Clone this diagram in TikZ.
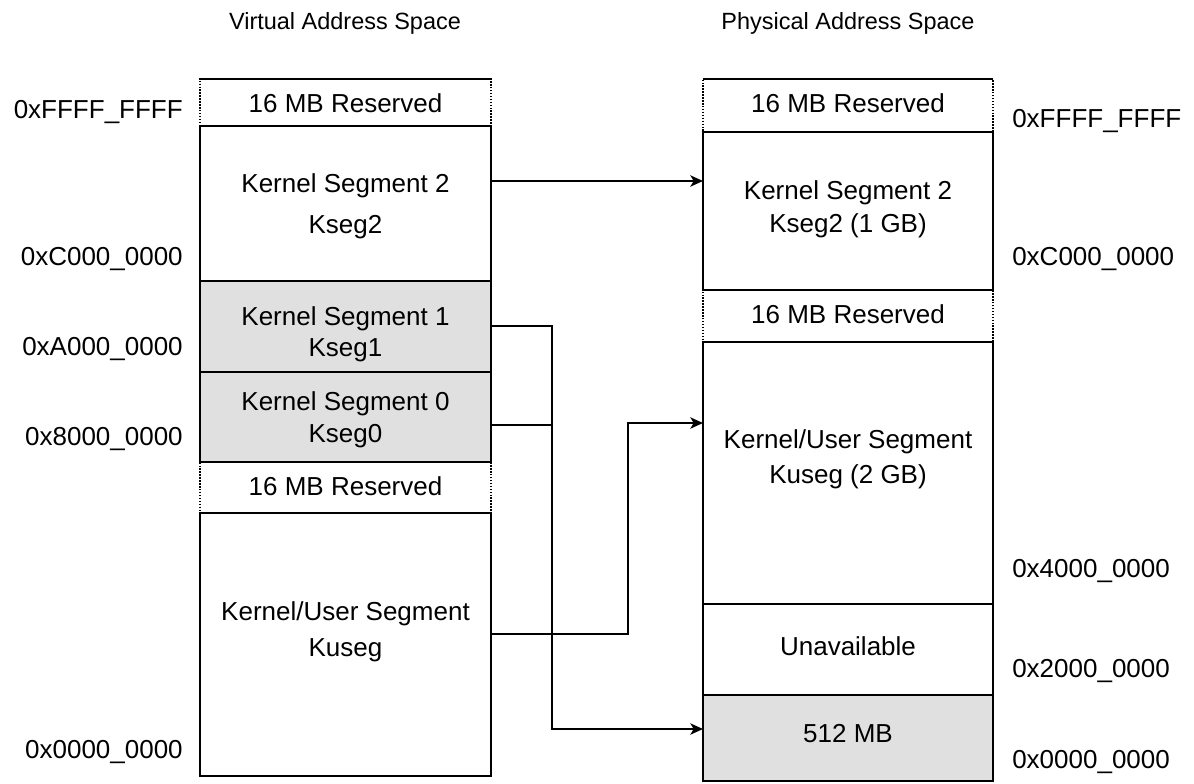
\documentclass[tikz,border=0pt]{standalone}
\usepackage{fontspec}
\setmainfont{Liberation Sans}
\usetikzlibrary{fit,arrows.meta}
\definecolor{segfill}{RGB}{224,224,224}
\begin{document}
\begin{tikzpicture}[x=0.75pt,y=-0.75pt,
  region/.style={draw=black,line width=1.5pt,inner sep=0pt,outer sep=0pt},
  grayregion/.style={region,fill=segfill},
  resregion/.style={draw=black,line width=1.2pt,dash pattern=on 1.1pt off 1.1pt,inner sep=0pt,outer sep=0pt},
  txt/.style={font=\fontsize{19.5}{23}\selectfont,inner sep=0pt,anchor=base},
  ttl/.style={font=\fontsize{17.6}{21}\selectfont,inner sep=0pt,anchor=base},
  addrl/.style={txt,anchor=base east},
  addrr/.style={txt,anchor=base west},
  conn/.style={line width=1.3pt},
  arr/.style={conn,-{Stealth[length=9.5pt,width=8.5pt,inset=2.5pt]}}
]
\useasboundingbox (0,0) rectangle (1194,783);

% titles
\node[ttl] (tv) at (345,29) {Virtual Address Space};
\node[ttl] (tp) at (848,29) {Physical Address Space};

% virtual column regions
\node[grayregion,fit={(200,281) (491,372)}] (lk1) {};
\node[grayregion,fit={(200,372) (491,462)}] (lk0) {};
\node[region,fit={(200,126) (491,281)}] (lk2) {};
\node[region,fit={(200,513) (491,776)}] (luk) {};
\node[resregion,fit={(200,79) (491,126)}] (lr1) {};
\node[resregion,fit={(200,462) (491,513)}] (lr2) {};
\draw[line width=1.5pt] (lr1.north west) -- (lr1.north east);
\draw[line width=1.5pt] (lr2.north west) -- (lr2.north east);

% physical column regions
\node[region,fit={(703,132) (993,290)}] (rk2) {};
\node[region,fit={(703,342) (993,604)}] (ruk) {};
\node[region,fit={(703,604) (993,695)}] (run) {};
\node[grayregion,fit={(703,695) (993,781)}] (r512) {};
\node[resregion,fit={(703,79) (993,132)}] (rr1) {};
\node[resregion,fit={(703,290) (993,342)}] (rr2) {};
\draw[line width=1.5pt] (rr1.north west) -- (rr1.north east);
\draw[line width=1.5pt] (rr2.north west) -- (rr2.north east);

% virtual texts
\node[txt] (tl1) at (345.5,112) {16 MB Reserved};
\node[txt] (tl2a) at (345.5,192) {Kernel Segment 2};
\node[txt] (tl2b) at (345.5,233) {Kseg2};
\node[txt] (tl3a) at (345.5,325) {Kernel Segment 1};
\node[txt] (tl3b) at (345.5,356) {Kseg1};
\node[txt] (tl4a) at (345.5,410) {Kernel Segment 0};
\node[txt] (tl4b) at (345.5,442) {Kseg0};
\node[txt] (tl5) at (345.5,495) {16 MB Reserved};
\node[txt] (tl6a) at (345.5,620) {Kernel/User Segment};
\node[txt] (tl6b) at (345.5,656) {Kuseg};

% physical texts
\node[txt] (tr1) at (848,112) {16 MB Reserved};
\node[txt] (tr2a) at (848,199) {Kernel Segment 2};
\node[txt] (tr2b) at (848,232) {Kseg2 (1 GB)};
\node[txt] (tr3) at (848,323) {16 MB Reserved};
\node[txt] (tr4a) at (848,448) {Kernel/User Segment};
\node[txt] (tr4b) at (848,483) {Kuseg (2 GB)};
\node[txt] (tr5) at (848,655) {Unavailable};
\node[txt] (tr6) at (848,742) {512 MB};

% address labels
\node[addrl] (al1) at (183,118) {0xFFFF\_FFFF};
\node[addrl] (al2) at (183,265) {0xC000\_0000};
\node[addrl] (al3) at (183,355) {0xA000\_0000};
\node[addrl] (al4) at (183,445) {0x8000\_0000};
\node[addrl] (al5) at (183,758) {0x0000\_0000};
\node[addrr] (ar1) at (1012,127) {0xFFFF\_FFFF};
\node[addrr] (ar2) at (1012,265) {0xC000\_0000};
\node[addrr] (ar3) at (1012,577) {0x4000\_0000};
\node[addrr] (ar4) at (1012,677) {0x2000\_0000};
\node[addrr] (ar5) at (1012,768) {0x0000\_0000};

% connector helper coordinates
\coordinate (y2) at (0,181);
\coordinate (y1) at (0,326);
\coordinate (y0) at (0,425);
\coordinate (yu) at (0,634);
\coordinate (yt) at (0,423);
\coordinate (y512) at (0,729);
\coordinate (j1) at (552,326);
\coordinate (j0) at (552,425);
\coordinate (j2) at (552,729);
\coordinate (u1) at (628,634);
\coordinate (u2) at (628,423);

% connectors
\draw[arr] (lk2.east |- y2) -- (rk2.west |- y2);
\draw[arr] (lk1.east |- y1) -- (j1) -- (j2) -- (r512.west |- y512);
\draw[conn] (lk0.east |- y0) -- (j0);
\draw[arr] (luk.east |- yu) -- (u1) -- (u2) -- (ruk.west |- yt);
\end{tikzpicture}
\end{document}
